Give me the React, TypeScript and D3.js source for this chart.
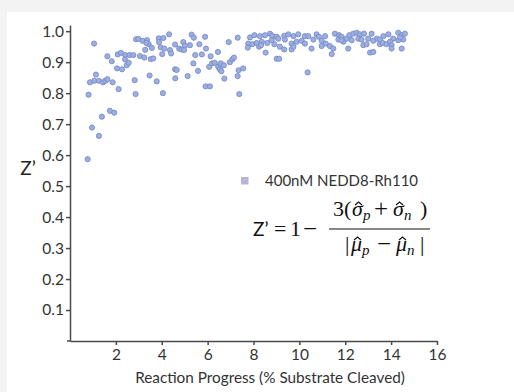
import { useEffect, useRef } from "react";
import * as d3 from "d3";

// reaction progress (% substrate cleaved), Z' factor
const rampPoints: [number, number][] = [
  [0.77, 0.587], [1.05, 0.96], [0.81, 0.795], [0.96, 0.689], [1.26, 0.662],
  [1.39, 0.724], [1.74, 0.743], [1.93, 0.737], [0.87, 0.835], [1.06, 0.84],
  [1.26, 0.84], [1.44, 0.835], [1.54, 0.84], [1.63, 0.845], [1.13, 0.86],
  [1.86, 0.835], [1.63, 0.919], [1.82, 0.903], [2.05, 0.88], [2.27, 0.877],
  [2.12, 0.813], [2.08, 0.925], [2.22, 0.93], [2.41, 0.923], [2.6, 0.923],
  [2.76, 0.923], [2.4, 0.909], [2.47, 0.89], [2.56, 0.898], [2.82, 0.842],
  [2.86, 0.797], [2.88, 0.974], [2.98, 0.975], [3.05, 0.92], [3.24, 0.915],
  [3.17, 0.969], [3.36, 0.971], [3.43, 0.958], [3.33, 0.962], [3.28, 0.94],
  [3.57, 0.946], [3.52, 0.91], [3.63, 0.912], [3.47, 0.857], [3.78, 0.838],
  [4.05, 0.8], [3.87, 0.977], [4.07, 0.978], [3.88, 0.965], [3.95, 0.948],
  [4.11, 0.944], [4.02, 0.926], [4.32, 0.99], [4.36, 0.939], [4.41, 0.928],
  [4.58, 0.957], [4.58, 0.877], [4.65, 0.875], [4.59, 0.848], [4.76, 0.944],
  [4.87, 0.941], [4.94, 0.965], [5.01, 0.953], [4.97, 0.939], [5.13, 0.855],
  [5.3, 0.989], [5.4, 0.979], [5.23, 0.955], [5.38, 0.896], [5.46, 0.923],
  [5.58, 0.872], [5.64, 0.958], [5.75, 0.925], [5.89, 0.982], [5.93, 0.944],
  [5.91, 0.822], [6.1, 0.822], [6.07, 0.885], [6.19, 0.896], [6.31, 0.898],
  [6.13, 0.919], [6.45, 0.933], [6.46, 0.885], [6.53, 0.877], [6.6, 0.871],
  [6.57, 0.896], [6.71, 0.89], [6.73, 0.847], [6.92, 0.965], [6.97, 0.9],
  [7.08, 0.909], [7.15, 0.915], [7.31, 0.979], [7.31, 0.855], [7.35, 0.874],
  [7.38, 0.797], [7.55, 0.88],
];

const plateauPoints: [number, number][] = [
  [7.85, 0.98], [8.04, 0.987], [8.28, 0.984], [8.5, 0.987], [8.72, 0.992],
  [8.82, 0.985], [9.01, 0.982], [9.34, 0.985], [9.52, 0.99], [9.74, 0.984],
  [9.95, 0.99], [10.24, 0.984], [10.39, 0.984], [10.75, 0.99], [10.85, 0.982],
  [11.12, 0.984], [11.55, 0.992], [11.73, 0.987], [11.84, 0.982],
  [7.77, 0.96], [7.95, 0.958], [8.14, 0.962], [8.36, 0.966], [8.6, 0.962],
  [8.79, 0.971], [9.08, 0.976], [9.37, 0.973], [9.66, 0.96], [9.88, 0.966],
  [10.1, 0.969], [10.24, 0.96], [10.61, 0.973], [10.97, 0.969], [11.15, 0.96],
  [11.33, 0.952], [11.48, 0.944], [11.7, 0.973], [11.92, 0.966],
  [7.75, 0.947], [8.24, 0.95], [8.33, 0.955], [8.91, 0.958], [9.15, 0.95],
  [9.34, 0.941], [9.66, 0.941], [9.74, 0.95], [10.53, 0.944], [10.97, 0.952],
  [11.41, 0.926], [8.53, 0.931], [9.01, 0.911], [9.12, 0.911], [10.36, 0.867],
  [12.06, 0.976], [12.18, 0.987], [12.35, 0.992], [12.5, 0.995], [12.64, 0.99],
  [12.82, 0.992], [13.15, 0.992], [13.37, 0.976], [13.51, 0.973], [13.66, 0.984],
  [13.88, 0.99], [14.09, 0.976], [14.31, 0.995], [14.46, 0.987], [14.6, 0.992],
  [14.53, 0.973], [11.84, 0.971], [12.28, 0.971], [12.57, 0.976], [12.71, 0.973],
  [13.0, 0.976], [13.22, 0.969], [13.51, 0.958], [13.63, 0.962], [13.8, 0.958],
  [13.95, 0.966], [14.02, 0.955], [14.31, 0.971], [14.39, 0.98], [12.79, 0.955],
  [12.93, 0.958], [12.13, 0.944], [13.08, 0.931], [13.22, 0.933], [14.02, 0.944],
  [14.46, 0.944],
];

const xTicks = [2, 4, 6, 8, 10, 12, 14, 16];
const yTicks = [0.1, 0.2, 0.3, 0.4, 0.5, 0.6, 0.7, 0.8, 0.9, 1.0];
const legendLabel = "400nM NEDD8-Rh110";

const W = 514;
const H = 392;
const m = { l: 70, r: 77, t: 25, b: 51 };

// hatted italic letter with a subscript; the hat is a small drawn chevron
const Hat = ({ x, y, ch, sub }: { x: number; y: number; ch: string; sub: string }) => (
  <>
    <text x={x} y={y} fontStyle="italic">{ch}</text>
    <path
      d={`M${x + 3},${y - 11} L${x + 6.5},${y - 14} L${x + 10},${y - 11}`}
      fill="none"
      stroke="#111"
      strokeWidth={1.1}
    />
    <text x={x + 11} y={y + 3.5} fontStyle="italic" fontSize={15}>{sub}</text>
  </>
);

const App = () => {
  const xRef = useRef<SVGGElement>(null);
  const yRef = useRef<SVGGElement>(null);

  const xScale = d3.scaleLinear().domain([0, 16]).range([m.l, W - m.r]);
  const yScale = d3.scaleLinear().domain([0, 1.02]).range([H - m.b, m.t]);

  useEffect(() => {
    const xAxis = d3
      .axisBottom(xScale)
      .tickValues(xTicks)
      .tickSize(4)
      .tickSizeOuter(0)
      .tickPadding(4);
    const yAxis = d3
      .axisLeft(yScale)
      .tickValues(yTicks)
      .tickSize(4)
      .tickSizeOuter(0)
      .tickPadding(2)
      .tickFormat(d3.format(".1f"));

    const gx = d3.select(xRef.current).call(xAxis);
    const gy = d3.select(yRef.current).call(yAxis);
    [gx, gy].forEach((g) => {
      g.selectAll("path, line").attr("stroke", "#4a4a4a").attr("stroke-width", 1.5);
      g.selectAll("text")
        .attr("fill", "#333")
        .style("font-family", "Lato")
        .style("font-size", "15.5px");
    });
  }, []);

  const points = [...rampPoints, ...plateauPoints];

  return (
    <svg
      width={W}
      height={H}
      style={{ position: "absolute", left: 0, top: 0 }}
      fontFamily="Lato"
    >
      <rect width={W} height={H} fill="#f3f3f3" />
      <rect x={7} y={12} width={W - 7} height={H - 12} fill="#fff" />

      <g ref={xRef} transform={`translate(0,${H - m.b})`} />
      <g ref={yRef} transform={`translate(${m.l},0)`} />
      <line
        x1={m.l - 3}
        x2={m.l}
        y1={H - m.b}
        y2={H - m.b}
        stroke="#4a4a4a"
        strokeWidth={1.5}
      />

      {points.map(([x, z], i) => (
        <circle
          key={i}
          cx={xScale(x)}
          cy={yScale(z)}
          r={2.6}
          fill="#9cafe0"
          stroke="#7387c7"
          strokeWidth={0.8}
        />
      ))}

      <text x={28} y={175} fontSize={19} fill="#222" textAnchor="middle">
        Z’
      </text>
      <text x={270} y={383} fontSize={15.3} fill="#333" textAnchor="middle">
        Reaction Progress (% Substrate Cleaved)
      </text>

      <rect x={241} y={177} width={7.5} height={7.5} fill="#bcb3d8" />
      <text x={265} y={186} fontSize={15} fill="#333">
        {legendLabel}
      </text>

      <g fill="#111" fontFamily="'Liberation Serif', serif" fontSize={22}>
        <text x={253} y={236} fontSize={19} fontFamily="Lato">
          Z’
        </text>
        <text x={274} y={236}>=</text>
        <text x={290} y={236}>1</text>
        <text x={303} y={237} fontSize={25}>−</text>
        <line x1={329} x2={430} y1={229} y2={229} stroke="#111" strokeWidth={1.1} />

        <text x={333} y={216}>3(</text>
        <Hat x={352} y={216} ch="σ" sub="p" />
        <text x={374} y={217} fontSize={25}>+</text>
        <Hat x={393} y={216} ch="σ" sub="n" />
        <text x={420} y={216}>)</text>

        <text x={345} y={251}>|</text>
        <Hat x={351} y={251} ch="μ" sub="p" />
        <text x={377} y={252} fontSize={25}>−</text>
        <Hat x={396} y={251} ch="μ" sub="n" />
        <text x={420} y={251}>|</text>
      </g>
    </svg>
  );
};

export default App;
